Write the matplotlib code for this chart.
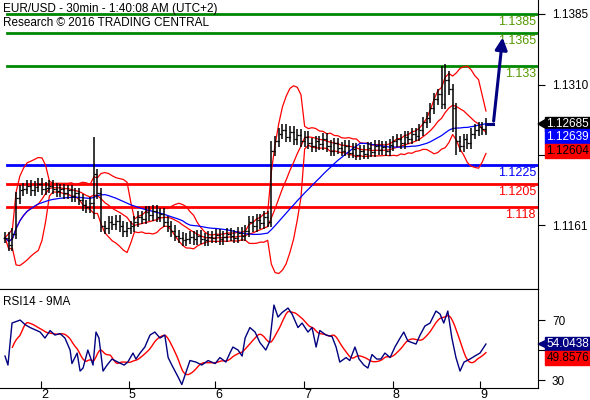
import numpy as np
import matplotlib
matplotlib.use("Agg")
import matplotlib.pyplot as plt
import matplotlib.patches as mpatches

plt.rcParams['font.family'] = ['Liberation Sans', 'DejaVu Sans']

closes = [1.1148,1.1140,1.1152,1.1190,1.1198,
          1.1200,1.1203,1.1198,1.1202,1.1205,1.1199,1.1201,
          1.1203,1.1200,1.1197,1.1199,1.1195,1.1198,1.1192,1.1195,
          1.1188,1.1182,1.1180,1.1185,1.1215,1.1195,1.1160,
          1.1158,1.1165,1.1162,1.1166,1.1160,1.1155,1.1158,
          1.1160,1.1165,1.1170,1.1168,1.1175,1.1172,1.1176,
          1.1170,1.1173,1.1165,1.1160,
          1.1155,1.1150,1.1148,1.1145,1.1147,
          1.1149,1.1146,1.1150,1.1147,1.1145,1.1149,1.1148,1.1151,1.1146,1.1149,1.1152,1.1150,1.1148,1.1153,1.1150,1.1155,
          1.1165,1.1160,1.1167,1.1163,1.1170,1.1165,
          1.1240,1.1250,1.1258,1.1262,1.1255,1.1260,1.1252,1.1257,
          1.1250,1.1255,1.1248,1.1245,1.1250,1.1247,1.1253,1.1245,1.1240,1.1248,
          1.1243,1.1240,1.1245,1.1238,1.1242,1.1236,1.1240,1.1237,1.1243,1.1239,1.1245,1.1241,1.1244,1.1240,1.1246,
          1.1250,1.1252,1.1248,1.1255,1.1253,1.1258,1.1256,1.1262,
          1.1270,1.1275,1.1285,1.1295,
          1.1300,1.1290,1.1315,1.1305,1.1285,
          1.1250,1.1245,1.1252,1.1248,
          1.1258,1.1262,1.1265,1.1263,1.12685]
wick = 0.0006
spike_high = {24: 1.1255, 118: 1.1330, 119: 1.1332, 120: 1.1325, 72: 1.1250}
spike_low = {24: 1.1168, 72: 1.1162, 122: 1.1235, 121: 1.1260}

rsi_hours = [0,0.8,1.9,4.1,5.4,6.8,9.5,10.8,12.2,13.5,14.9,16.2,17.6,18.1,19.5,20.3,21.1,22.4,23.8,24.6,25.4,26.5,27.6,28.9,30.5,32.2,33.2,34.6,35.4,36.5,37.8,39.2,40.5,41.9,43.2,44.1,45.1,46.8,47.8,48.9,50,51.6,53.2,54.9,56.8,58.1,59.7,60.8,61.6,63,64.1,64.9,66.2,67.6,68.9,70.5,71.6,72.7,73.8,74.9,76.5,77.6,79.2,80.3,81.9,83,84.1,85.1,86.8,88.4,89.5,90.5,92.2,93.2,94.6,95.7,97,98.1,99.2,100.5,101.6,102.7,104.1,105.4,106.8,107.8,108.9,110,111.1,112.2,113.5,114.9,116.5,117.6,118.6,119.7,120.8,121.9,123,124.1,125.7,127,128.4,130]
rsi_vals = [46,40,68,70,67,65,62,58,63,60,61,58,50,41,48,36,38,50,40,62,58,36,40,44,42,40,42,48,44,48,52,60,62,58,60,45,40,32,27,35,43,42,40,43,41,45,42,48,52,50,46,58,65,62,55,50,56,80,72,75,78,74,65,68,62,65,52,63,60,59,52,42,45,43,52,44,40,38,47,44,44,48,45,52,58,62,56,55,54,60,66,68,76,74,68,76,58,45,36,42,44,46,48,54]

day_labels = ['2','5','6','7','8','9']
day_tick_bars = [9.7,33.4,56.8,80.8,104.8,128.4]

levels_green = [1.1385, 1.1365, 1.133]
levels_blue = [1.1225]
levels_red = [1.1205, 1.118]
level_labels = ['1.1385','1.1365','1.133','1.1225','1.1205','1.118']
price_ticks = [1.1385, 1.1310, 1.1236, 1.1161]
price_ticklabels = ['1.1385', '1.1310', '', '1.1161']
last_vals = ['1.12685', '1.12639', '1.12604']
rsi_last = ['54.0438', '49.8576']
target = 1.1363

c = np.array(closes)
n = len(c)
x = np.arange(n)
o = np.concatenate([[c[0]], c[:-1]])
hi = np.maximum(o, c) + wick
lo = np.minimum(o, c) - wick
for k, v in spike_high.items(): hi[k] = max(hi[k], v)
for k, v in spike_low.items(): lo[k] = min(lo[k], v)

def roll(a, w, f):
    out = np.full(len(a), np.nan)
    for i in range(len(a)):
        s = a[max(0, i-w+1):i+1]
        out[i] = f(s)
    return out
mid = roll(c, 10, np.mean)
sd = roll(c, 10, np.std)
up = mid + 2*sd; dn = mid - 2*sd
ma = roll(c, 25, np.mean)

fig = plt.figure(figsize=(5.9, 4.0), dpi=100)
ax = fig.add_axes([0, 0.2775, 0.912, 0.7225])
ax2 = fig.add_axes([0, 0.03, 0.912, 0.2475])
xl = (-1.35, 144.1)
for a in (ax, ax2):
    a.set_xlim(*xl)
    a.spines['left'].set_visible(False)
    a.yaxis.tick_right()
    a.tick_params(axis='y', direction='out', length=5, labelsize=8.5, pad=5)
ax.set_ylim(1.10935, 1.13998)
ax.spines['top'].set_visible(False)
ax.set_xticks([])

for lv in levels_green: ax.plot([0.5, xl[1]], [lv, lv], color='#008800', lw=2)
for lv in levels_blue: ax.plot([0.5, xl[1]], [lv, lv], color='#0000ff', lw=2)
for lv in levels_red: ax.plot([0.5, xl[1]], [lv, lv], color='#ff0000', lw=2)
lvls = levels_green + levels_blue + levels_red
cols = ['#559900']*3 + ['#0000ff'] + ['#ff0000']*2
for lv, lab, col in zip(lvls, level_labels, cols):
    ax.text(143.5, lv - 0.0002, lab, color=col, ha='right', va='top', fontsize=9)

ax.plot(x, up, color='red', lw=0.9)
ax.plot(x, dn, color='red', lw=0.9)
ax.plot(x, mid, color='red', lw=0.9)
ax.plot(x, ma, color='blue', lw=0.9)
ax.vlines(x, lo, hi, color='black', lw=1.1)
ax.hlines(o, x-0.5, x, color='black', lw=0.9)
ax.hlines(c, x, x+0.5, color='black', lw=0.9)

ax.plot([n-1, n+1], [c[-1], c[-1]], color='#000080', lw=2.2)
ax.annotate('', xy=(n+3.6, target), xytext=(n+1, c[-1]),
            arrowprops=dict(arrowstyle='-|>', color='#000080', lw=2.2, mutation_scale=18))

ax.set_yticks(price_ticks)
ax.set_yticklabels(price_ticklabels)

fig.text(0.005, 0.993, 'EUR/USD - 30min - 1:40:08 AM (UTC+2)', fontsize=8.5, va='top')
fig.text(0.005, 0.958, 'Research \u00a9 2016 TRADING CENTRAL', fontsize=8.5, va='top')

def tag(axx, y, text, fc, tc):
    axx.annotate(text, xy=(1.0, y), xycoords=('axes fraction', 'data'),
                 xytext=(6, 0), textcoords='offset points', ha='left', va='center',
                 fontsize=8.5, color=tc,
                 bbox=dict(boxstyle='square,pad=0.1', fc=fc, ec=fc), annotation_clip=False)
tag(ax, 1.12685, last_vals[0], 'black', 'white')
tag(ax, 1.12551, last_vals[1], '#0000ff', 'white')
tag(ax, 1.12400, last_vals[2], '#ff0000', 'black')
ax.add_patch(mpatches.Polygon([[1.0, 1.12685], [1.018, 1.12745], [1.018, 1.12625]],
                              closed=True, transform=ax.get_yaxis_transform(), color='black', clip_on=False))

# RSI
rh = np.array(rsi_hours); rv = np.array(rsi_vals)
grid = np.arange(0, rh[-1]+0.01, 0.5)
gv = np.interp(grid, rh, rv)
gma = roll(gv, 9, np.mean)
ax2.plot(grid[4:], gma[4:], color='red', lw=1)
ax2.plot(rh, rv, color='#000080', lw=1)
ax2.set_ylim(24.7, 90.7)
ax2.set_yticks([30, 50, 70]); ax2.set_yticklabels(['30', '', '70'])
ax2.set_xticks(day_tick_bars); ax2.set_xticklabels(day_labels)
ax2.tick_params(axis='x', direction='in', length=5, labelsize=9, pad=1)
for lbl in ax2.get_xticklabels(): lbl.set_horizontalalignment('left')
ax2.text(0.005, 0.93, 'RSI14 - 9MA', transform=ax2.transAxes, fontsize=8.5, va='top')
tag(ax2, 54.0, rsi_last[0], '#000080', 'white')
tag(ax2, 44.8, rsi_last[1], '#ff0000', 'black')
ax2.add_patch(mpatches.Polygon([[1.0, 54.0], [1.018, 57.0], [1.018, 51.0]],
                               closed=True, transform=ax2.get_yaxis_transform(), color='#000080', clip_on=False))

fig.savefig('out.png', dpi=100)
